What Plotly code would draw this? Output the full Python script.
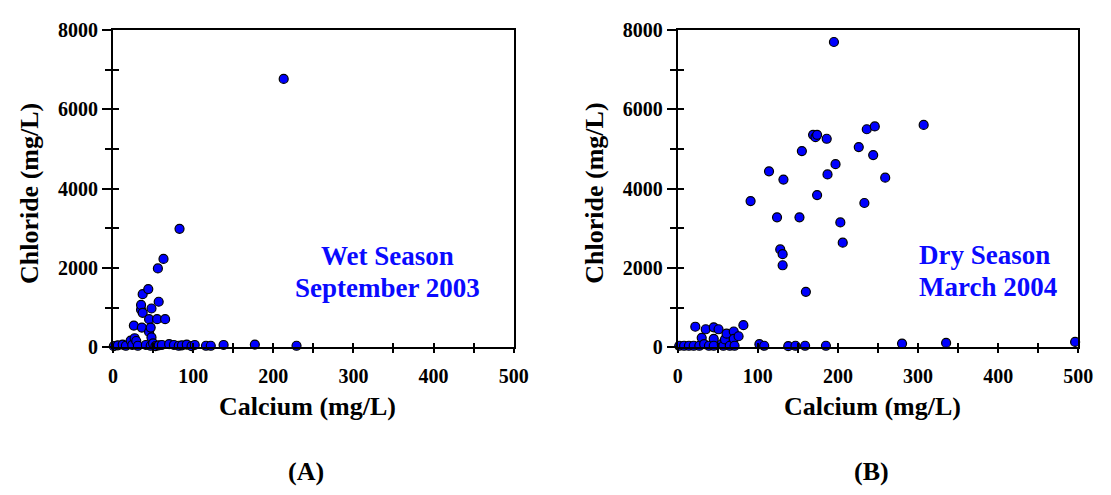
import plotly.graph_objects as go

# Wet season (September 2003): calcium vs chloride, mg/L
ca_wet = [1, 6, 12, 16, 22, 24, 27, 26, 29, 31, 35, 35, 36, 37, 37, 41, 44, 45, 45, 47,
          47, 48, 48, 50, 53, 55, 56, 57, 57, 61, 63, 65, 70, 76, 82, 83, 86, 92, 98, 102,
          116, 122, 138, 177, 213, 229]
cl_wet = [30, 50, 70, 40, 170, 60, 230, 550, 160, 40, 950, 1070, 500, 870, 1340, 60, 1470, 710, 390, 500,
          40, 980, 250, 100, 30, 710, 1990, 1150, 50, 60, 2230, 710, 80, 60, 40, 2990, 50, 70, 30, 60,
          40, 40, 60, 70, 6770, 40]

# Dry season (March 2004)
ca_dry = [2, 8, 14, 20, 22, 27, 30, 33, 35, 39, 45, 45, 45, 51, 55, 57, 59, 61, 65, 70,
          70, 71, 76, 82, 102, 108, 138, 147, 159, 185, 280, 335, 496,
          91, 114, 124, 128, 131, 131, 132, 152, 155, 160, 169, 172, 174, 174, 186, 187,
          195, 197, 203, 206, 226, 233, 236, 244, 246, 259, 307]
cl_dry = [40, 40, 40, 40, 520, 40, 240, 80, 456, 40, 504, 216, 40, 456, 80, 40, 200, 344, 40, 400,
          216, 40, 280, 560, 80, 40, 30, 40, 40, 40, 96, 112, 137,
          3690, 4440, 3280, 2470, 2350, 2070, 4230, 3280, 4950, 1400, 5360, 5300, 5360, 3840, 5260, 4360,
          7700, 4620, 3150, 2640, 5050, 3640, 5500, 4850, 5570, 4280, 5610]

x_ticks = [0, 100, 200, 300, 400, 500]
y_ticks = [0, 2000, 4000, 6000, 8000]

W, H = 1111, 495
FONT = "Liberation Serif"
BLUE = "#0a0aff"


def px(x):
    return x / W


def py(y):
    return 1 - y / H


dom_a = [px(110), px(518)]
dom_b = [px(685), px(1093)]
dom_y = [py(352), py(20)]

marker = dict(size=9, color="#0000ff", line=dict(color="black", width=1.2))

fig = go.Figure()
fig.add_trace(go.Scatter(x=ca_wet, y=cl_wet, mode="markers", marker=marker,
                         xaxis="x", yaxis="y", cliponaxis=False, showlegend=False))
fig.add_trace(go.Scatter(x=ca_dry, y=cl_dry, mode="markers", marker=marker,
                         xaxis="x2", yaxis="y2", cliponaxis=False, showlegend=False))

tick_font = dict(family=FONT, size=20, color="black", weight="bold")


def x_axis(domain, anchor):
    return dict(domain=domain, anchor=anchor, range=[0, 500], tickvals=x_ticks,
                ticks="outside", ticklen=4, tickwidth=1.5, tickcolor="black",
                minor=dict(dtick=50, ticks="outside", ticklen=4, tickwidth=1.5, tickcolor="black"),
                showline=True, linewidth=2, linecolor="black", mirror=True,
                showgrid=False, zeroline=False, tickfont=tick_font, ticklabelstandoff=6,
                fixedrange=True)


def y_axis(anchor):
    return dict(domain=dom_y, anchor=anchor, range=[0, 8000], tickvals=y_ticks,
                ticks="outside", ticklen=9, tickwidth=1.5, tickcolor="black",
                minor=dict(dtick=1000, ticks="outside", ticklen=6, tickwidth=1.5, tickcolor="black"),
                showline=True, linewidth=2, linecolor="black", mirror=True,
                showgrid=False, zeroline=False, tickfont=tick_font, fixedrange=True)


def x_inner(over, anchor):
    return dict(overlaying=over, anchor=anchor, range=[0, 500], tickvals=x_ticks,
                ticks="inside", ticklen=4, tickwidth=1.5, tickcolor="black",
                minor=dict(dtick=50, ticks="inside", ticklen=4, tickwidth=1.5, tickcolor="black"),
                showticklabels=False, showline=False, showgrid=False, zeroline=False)


def y_inner(over, anchor):
    return dict(overlaying=over, anchor=anchor, side="left", range=[0, 8000], tickvals=y_ticks,
                ticks="inside", ticklen=5, tickwidth=1.5, tickcolor="black",
                minor=dict(dtick=1000, ticks="inside", ticklen=6, tickwidth=1.5, tickcolor="black"),
                showticklabels=False, showline=False, showgrid=False, zeroline=False)


# empty traces so the overlay tick axes (ticks crossing the axis lines) are drawn
for xa, ya in [("x3", "y3"), ("x4", "y4")]:
    fig.add_trace(go.Scatter(x=[None], y=[None], xaxis=xa, yaxis=ya, showlegend=False,
                             hoverinfo="skip"))

fig.update_layout(
    width=W, height=H,
    margin=dict(l=0, r=0, t=0, b=0),
    paper_bgcolor="white", plot_bgcolor="white",
    xaxis=x_axis(dom_a, "y"), yaxis=y_axis("x"),
    xaxis2=x_axis(dom_b, "y2"), yaxis2=y_axis("x2"),
    xaxis3=x_inner("x", "y3"), yaxis3=y_inner("y", "x3"),
    xaxis4=x_inner("x2", "y4"), yaxis4=y_inner("y2", "x4"),
)

title_font = dict(family=FONT, size=26, color="black", weight="bold")
label_font = dict(family=FONT, size=27, color=BLUE, weight="bold")

annotations = [
    # axis titles
    dict(x=px(308), y=py(414), text="Calcium (mg/L)", font=title_font),
    dict(x=px(883), y=py(414), text="Calcium (mg/L)", font=title_font),
    dict(x=px(25), y=py(191), text="Chloride (mg/L)", font=title_font, textangle=-90),
    dict(x=px(600), y=py(191), text="Chloride (mg/L)", font=title_font, textangle=-90),
    # panel labels
    dict(x=px(307), y=py(482), text="(A)", font=title_font),
    dict(x=px(882), y=py(482), text="(B)", font=title_font),
    # season labels
    dict(x=px(390), y=py(256), text="Wet Season", font=label_font),
    dict(x=px(390), y=py(290), text="September 2003", font=label_font),
    dict(x=px(929), y=py(255), text="Dry Season", font=label_font, xanchor="left"),
    dict(x=px(929), y=py(289), text="March 2004", font=label_font, xanchor="left"),
]
for a in annotations:
    a.setdefault("xanchor", "center")
    a.update(xref="paper", yref="paper", showarrow=False, yanchor="middle")
fig.update_layout(annotations=annotations)

fig.write_html("out.html")
